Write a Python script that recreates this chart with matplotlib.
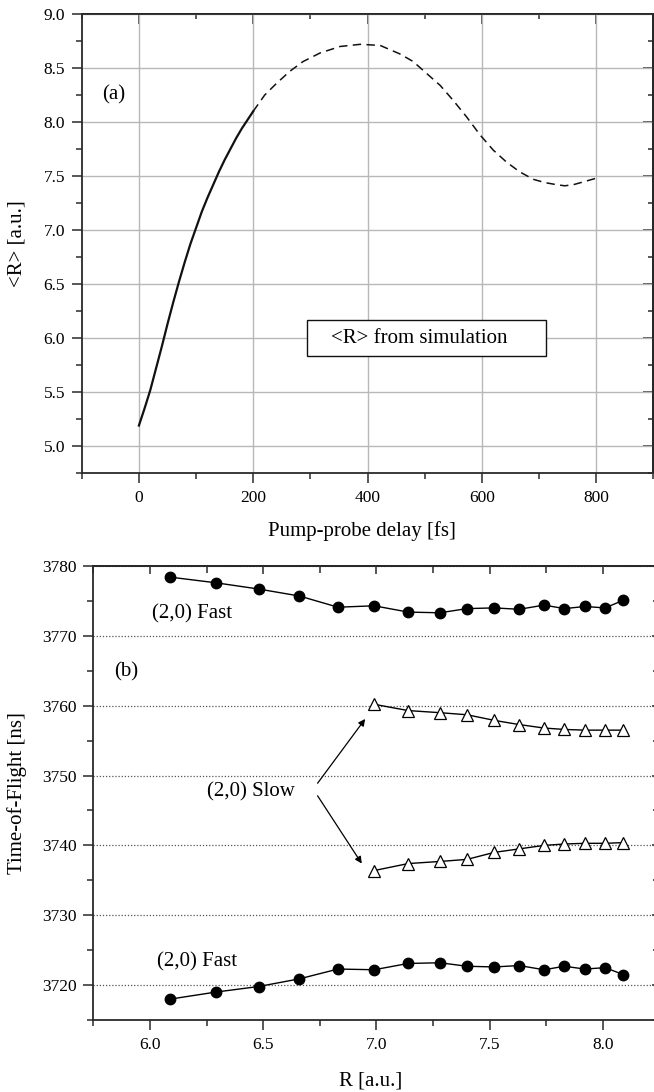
import matplotlib
matplotlib.use('Agg')
import matplotlib.pyplot as plt
from matplotlib.patches import Rectangle
from matplotlib.ticker import MultipleLocator

plt.rcParams['font.family'] = ['Liberation Serif', 'DejaVu Serif']

# (a) <R> from simulation vs pump-probe delay
delay_solid = [0, 10, 20, 30, 40, 50, 60, 70, 80, 90, 100, 110, 120, 130, 140,
               150, 160, 170, 180, 190, 200]
r_solid = [5.19, 5.35, 5.52, 5.72, 5.92, 6.13, 6.33, 6.52, 6.70, 6.87, 7.02, 7.17,
           7.30, 7.42, 7.54, 7.65, 7.75, 7.85, 7.94, 8.02, 8.10]
delay_dashed = [200, 220, 241, 264, 287, 317, 352, 387, 422, 457, 480, 497, 527,
                550, 573, 597, 620, 643, 666, 690, 710, 731, 745, 760, 780, 800]
r_dashed = [8.10, 8.25, 8.36, 8.47, 8.56, 8.64, 8.70, 8.72, 8.71, 8.63, 8.56, 8.48, 8.34,
            8.20, 8.05, 7.88, 7.74, 7.63, 7.54, 7.47, 7.44, 7.42, 7.41, 7.42, 7.45, 7.48]

# (b) time-of-flight vs R
r_fast = [6.09, 6.29, 6.48, 6.66, 6.83, 6.99, 7.14, 7.28, 7.40, 7.52, 7.63, 7.74, 7.83, 7.92, 8.01, 8.09]
tof_fast_hi = [3778.4, 3777.6, 3776.7, 3775.7, 3774.1, 3774.3, 3773.4, 3773.3,
               3773.9, 3774.0, 3773.8, 3774.4, 3773.9, 3774.2, 3774.0, 3775.1]
tof_fast_lo = [3718.0, 3719.0, 3719.8, 3720.9, 3722.3, 3722.2, 3723.1, 3723.2,
               3722.7, 3722.6, 3722.8, 3722.2, 3722.7, 3722.3, 3722.5, 3721.5]
r_slow = r_fast[5:]
tof_slow_hi = [3760.2, 3759.3, 3759.0, 3758.7, 3757.9, 3757.3, 3756.8, 3756.6, 3756.5, 3756.5, 3756.5]
tof_slow_lo = [3736.4, 3737.4, 3737.7, 3738.0, 3739.0, 3739.5, 3740.0, 3740.2, 3740.3, 3740.3, 3740.4]

SPINE = '#2a2a2a'


def style_axes(ax, xmaj, xmin, ymaj, ymin, mirror_len):
    for s in ax.spines.values():
        s.set_linewidth(1.3)
        s.set_color(SPINE)
    ax.xaxis.set_major_locator(MultipleLocator(xmaj))
    ax.xaxis.set_minor_locator(MultipleLocator(xmin))
    ax.yaxis.set_major_locator(MultipleLocator(ymaj))
    ax.yaxis.set_minor_locator(MultipleLocator(ymin))
    ax.tick_params(which='both', direction='out', labelsize=12.5, width=1.1, color=SPINE)
    ax.tick_params(which='major', length=7, pad=5)
    ax.tick_params(which='minor', length=4)
    # mirrored ticks pointing inward
    top = ax.secondary_xaxis('top')
    top.xaxis.set_major_locator(MultipleLocator(xmaj))
    top.xaxis.set_minor_locator(MultipleLocator(xmin))
    top.tick_params(which='both', direction='in', labeltop=False, width=1.1, color=SPINE)
    top.tick_params(which='major', length=mirror_len[0])
    top.tick_params(which='minor', length=mirror_len[1])
    top.spines['top'].set_linewidth(1.3)
    right = ax.secondary_yaxis('right')
    right.yaxis.set_major_locator(MultipleLocator(ymaj))
    right.yaxis.set_minor_locator(MultipleLocator(ymin))
    right.tick_params(which='both', direction='in', labelright=False, width=1.1, color=SPINE)
    right.tick_params(which='major', length=mirror_len[0])
    right.tick_params(which='minor', length=mirror_len[1])
    right.spines['right'].set_linewidth(1.3)


fig = plt.figure(figsize=(6.54, 10.92), dpi=100)

# ---- panel (a)
ax1 = fig.add_axes([0.125, 0.5668, 0.874, 0.4203])
ax1.set_xlim(-100, 900)
ax1.set_ylim(4.75, 9.0)
ax1.grid(True, which='major', color='#b8b8b8', lw=1.0)
ax1.set_axisbelow(True)
ax1.plot(delay_solid, r_solid, color='#111111', lw=1.6)
ax1.plot(delay_dashed, r_dashed, color='#111111', lw=1.1, linestyle=(0, (5.5, 3.5)))
style_axes(ax1, 200, 100, 0.5, 0.25, (7, 3.5))
ax1.yaxis.set_major_formatter(plt.FormatStrFormatter('%.1f'))
ax1.text(-65, 8.25, '(a)', fontsize=15, ha='left', va='center')
ax1.add_patch(Rectangle((294, 5.83), 419, 0.34, facecolor='white',
                        edgecolor='#111111', lw=1.0, zorder=4))
ax1.text(336, 6.0, '<R> from simulation', fontsize=15, ha='left', va='center', zorder=5)
ax1.set_xlabel('Pump-probe delay [fs]', fontsize=15)
ax1.set_ylabel('<R> [a.u.]', fontsize=15)
ax1.xaxis.set_label_coords(0.49, -0.104)
ax1.yaxis.set_label_coords(-0.096, 0.5)

# ---- panel (b)
ax2 = fig.add_axes([0.1428, 0.0659, 0.8657, 0.4158])
ax2.set_xlim(5.75, 8.25)
ax2.set_ylim(3715, 3780)
ax2.yaxis.grid(True, which='major', color='#555555', lw=0.9, linestyle=(0, (1, 1.5)))
ax2.set_axisbelow(True)
style_axes(ax2, 0.5, 0.25, 10, 5, (6, 5))
ax2.xaxis.set_major_formatter(plt.FormatStrFormatter('%.1f'))

ax2.plot(r_fast, tof_fast_hi, color='black', lw=1.0, marker='o', markersize=7.5)
ax2.plot(r_fast, tof_fast_lo, color='black', lw=1.0, marker='o', markersize=7.5)
ax2.plot(r_slow, tof_slow_hi, color='black', lw=1.0, marker='^', markersize=8,
         markerfacecolor='white', markeredgewidth=0.9)
ax2.plot(r_slow, tof_slow_lo, color='black', lw=1.0, marker='^', markersize=8,
         markerfacecolor='white', markeredgewidth=0.9)

ax2.text(6.01, 3773.2, '(2,0) Fast', fontsize=15, ha='left', va='center')
ax2.text(6.03, 3723.4, '(2,0) Fast', fontsize=15, ha='left', va='center')
ax2.text(5.84, 3764.9, '(b)', fontsize=15, ha='left', va='center')
ax2.text(6.25, 3747.6, '(2,0) Slow', fontsize=15, ha='left', va='center')
arrow = dict(arrowstyle='-|>', color='black', lw=0.9, mutation_scale=10, shrinkA=0, shrinkB=0)
ax2.annotate('', xy=(6.95, 3758.1), xytext=(6.74, 3748.9), arrowprops=arrow)
ax2.annotate('', xy=(6.935, 3737.4), xytext=(6.74, 3747.1), arrowprops=arrow)

ax2.set_xlabel('R [a.u.]', fontsize=15)
ax2.set_ylabel('Time-of-Flight [ns]', fontsize=15)
ax2.xaxis.set_label_coords(0.49, -0.114)
ax2.yaxis.set_label_coords(-0.117, 0.5)

fig.savefig('out.png', dpi=100)
